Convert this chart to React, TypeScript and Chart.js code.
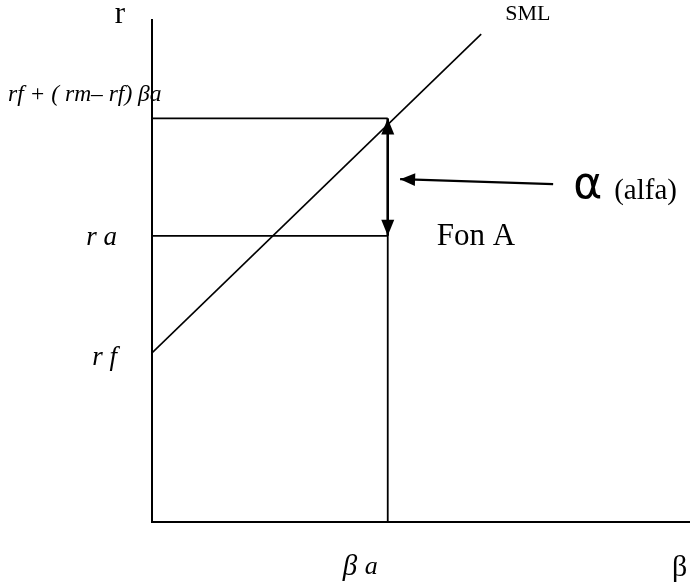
import React, { useEffect, useRef } from "react";
import { Chart, registerables } from "chart.js";

Chart.register(...registerables);

// ---- data (chart units) ----
const X_RANGE = [0, 10];
const Y_RANGE = [0, 10];
const RF = 3.37; // risk-free rate
const RA = 5.7; // actual return of fund A
const R_EXPECTED = 8.04; // rf + (rm - rf) * beta_a
const BETA_A = 4.39;
const smlX = [0, 6.13];
const smlY = [RF, 9.72];
const alphaPointerX = [7.47, 4.62];
const alphaPointerY = [6.73, 6.83];

// ---- texts ----
const yAxisTitle = "r";
const xAxisTitle = "β";
const smlLabel = "SML";
const yValueLabels = ["r f", "r a", "rf + ( rm– rf) βa"];
const betaLabel = ["β", "a"];
const alphaSymbol = "α";
const alphaWord = "(alfa)";
const fundLabel = "Fon A";

const pts = (xs: number[], ys: number[]) => xs.map((x, i) => ({ x, y: ys[i] }));

const SERIF = '"Liberation Serif", "Times New Roman", serif';
const SANS = '"DejaVu Sans", "Liberation Sans", sans-serif';

const arrowPlugin = {
  id: "arrowHeads",
  afterDatasetsDraw(chart: any) {
    const ctx = chart.ctx;
    ctx.save();
    ctx.fillStyle = "#000";
    chart.data.datasets.forEach((ds: any, i: number) => {
      const heads: string[] | undefined = ds.arrowHeads;
      if (!heads) return;
      const p = chart.getDatasetMeta(i).data;
      const L = ds.arrowLength || 15;
      const W = ds.arrowHalfWidth || 6;
      const draw = (tip: any, from: any) => {
        const a = Math.atan2(tip.y - from.y, tip.x - from.x);
        const c = Math.cos(a), s = Math.sin(a);
        ctx.beginPath();
        ctx.moveTo(tip.x, tip.y);
        ctx.lineTo(tip.x - L * c + W * s, tip.y - L * s - W * c);
        ctx.lineTo(tip.x - L * c - W * s, tip.y - L * s + W * c);
        ctx.closePath();
        ctx.fill();
      };
      if (heads.includes("start")) draw(p[0], p[1]);
      if (heads.includes("end")) draw(p[p.length - 1], p[p.length - 2]);
    });
    ctx.restore();
  },
};

const labelPlugin = {
  id: "diagramLabels",
  afterDraw(chart: any) {
    const { ctx } = chart;
    const xs = chart.scales.x;
    const ys = chart.scales.y;
    const X = (v: number) => xs.getPixelForValue(v);
    const Y = (v: number) => ys.getPixelForValue(v);
    ctx.save();
    ctx.fillStyle = "#000";
    ctx.textBaseline = "alphabetic";
    const put = (t: string, x: number, y: number, font: string, align: CanvasTextAlign = "left") => {
      ctx.font = font;
      ctx.textAlign = align;
      ctx.fillText(t, x, y);
    };
    // axis titles
    put(yAxisTitle, X(0) - 32, ys.top + 3, `31px ${SERIF}`, "center");
    put(xAxisTitle, xs.right - 17, ys.bottom + 54, `30px ${SERIF}`);
    // SML
    put(smlLabel, X(smlX[1]) + 24, Y(smlY[1]) - 14, `22px ${SERIF}`);
    // y value labels
    put(yValueLabels[0], X(0) - 35, Y(RF) + 12, `italic 27px ${SERIF}`, "right");
    put(yValueLabels[1], X(0) - 35, Y(RA) + 9, `italic 27px ${SERIF}`, "right");
    put(yValueLabels[2], X(0) - 144, Y(R_EXPECTED) - 17, `italic 23.5px ${SERIF}`);
    // beta a
    put(betaLabel[0], X(BETA_A) - 45, ys.bottom + 53, `italic 29px ${SERIF}`);
    put(betaLabel[1], X(BETA_A) - 23, ys.bottom + 52, `italic 26px ${SERIF}`);
    // alpha
    const ax = X(alphaPointerX[0]) + 20;
    const ay = Y(alphaPointerY[0]);
    put(alphaSymbol, ax, ay + 14, `44px ${SANS}`);
    put(alphaWord, ax + 41, ay + 15, `29px ${SERIF}`);
    // fund label
    put(fundLabel, X(BETA_A) + 49, Y(RA) + 9, `31px ${SERIF}`);
    ctx.restore();
  },
};

export default function App() {
  const ref = useRef<HTMLCanvasElement>(null);
  useEffect(() => {
    if (!ref.current) return;
    const line = (data: any[], width: number, extra: any = {}) => ({
      data,
      showLine: true,
      borderColor: "#000",
      backgroundColor: "#000",
      borderWidth: width,
      pointRadius: 0,
      pointHoverRadius: 0,
      fill: false,
      ...extra,
    });
    const chart = new Chart(ref.current, {
      type: "scatter",
      data: {
        datasets: [
          line(pts(smlX, smlY), 1.6),
          line(pts([0, BETA_A], [R_EXPECTED, R_EXPECTED]), 1.6),
          line(pts([0, BETA_A], [RA, RA]), 1.6),
          line(pts([BETA_A, BETA_A], [R_EXPECTED, Y_RANGE[0]]), 1.8),
          line(pts([BETA_A, BETA_A], [R_EXPECTED, RA]), 2.5, {
            arrowHeads: ["start", "end"],
            arrowLength: 16,
            arrowHalfWidth: 6.5,
          }),
          line(pts(alphaPointerX, alphaPointerY), 2.2, {
            arrowHeads: ["end"],
            arrowLength: 15,
            arrowHalfWidth: 6.5,
          }),
        ] as any,
      },
      options: {
        animation: false,
        responsive: false,
        events: [],
        layout: { padding: { left: 152, top: 20, right: 4, bottom: 64 } },
        plugins: { legend: { display: false }, tooltip: { enabled: false } },
        scales: {
          x: {
            type: "linear",
            min: X_RANGE[0],
            max: X_RANGE[1],
            ticks: { display: false },
            grid: { display: false, drawTicks: false },
            border: { display: true, color: "#000", width: 2 },
            afterFit: (s: any) => {
              s.height = 0;
            },
          },
          y: {
            type: "linear",
            min: Y_RANGE[0],
            max: Y_RANGE[1],
            ticks: { display: false },
            grid: { display: false, drawTicks: false },
            border: { display: true, color: "#000", width: 2 },
            afterFit: (s: any) => {
              s.width = 0;
            },
          },
        },
      } as any,
      plugins: [arrowPlugin, labelPlugin],
    });
    return () => chart.destroy();
  }, []);
  return (
    <div style={{ position: "absolute", left: 0, top: 0, width: 693, height: 586, background: "#fff" }}>
      <canvas ref={ref} width={693} height={586} style={{ display: "block" }} />
    </div>
  );
}
